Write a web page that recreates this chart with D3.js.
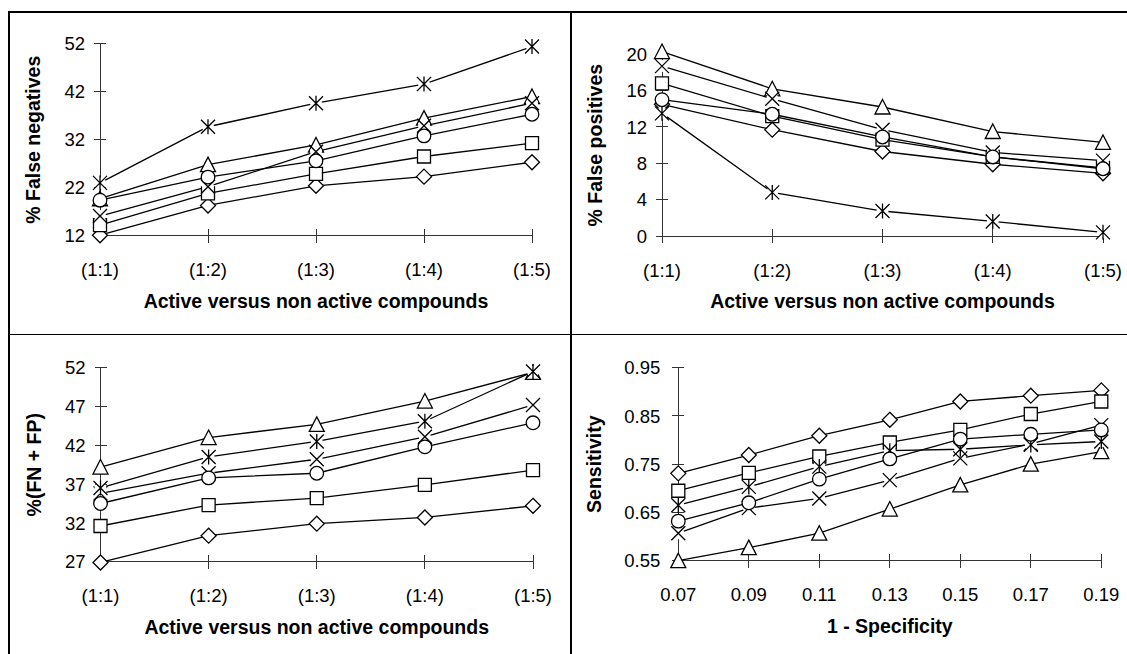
<!DOCTYPE html>
<html>
<head>
<meta charset="utf-8">
<script src="https://cdn.jsdelivr.net/npm/d3@7"></script>
<style>
    html, body { margin: 0; padding: 0; background: #fff; }
    svg { display: block; font-family: Arial, "Liberation Sans", sans-serif; }
</style>
</head>
<body>
<svg id="chart" width="1127" height="654"></svg>
<script>
// Category labels
const ratioLabels = ['(1:1)', '(1:2)', '(1:3)', '(1:4)', '(1:5)'];
const specificityLabels = ['0.07', '0.09', '0.11', '0.13', '0.15', '0.17', '0.19'];

// One row per series, in drawing order
const markerShapes = ['diamond', 'square', 'triangle', 'cross', 'star', 'circle'];

const falseNegatives = [
    [12.1, 18.3, 22.4, 24.3, 27.3],
    [14.2, 20.8, 24.9, 28.5, 31.3],
    [19.7, 26.8, 30.9, 36.5, 41.0],
    [16.1, 22.2, 29.5, 34.9, 39.6],
    [23.0, 34.7, 39.6, 43.6, 51.4],
    [19.4, 24.2, 27.6, 32.8, 37.3]
];

const falsePositives = [
    [14.5, 11.7, 9.3, 7.9, 6.9],
    [16.8, 13.2, 10.6, 8.7, 7.5],
    [20.3, 16.2, 14.2, 11.5, 10.3],
    [18.7, 15.1, 11.7, 9.2, 8.3],
    [13.5, 4.8, 2.75, 1.6, 0.4],
    [15.0, 13.4, 10.9, 8.7, 7.4]
];

const fnPlusFp = [
    [26.9, 30.35, 31.9, 32.7, 34.2],
    [31.6, 34.3, 35.2, 36.9, 38.8],
    [39.2, 43.0, 44.7, 47.7, 51.4],
    [35.8, 38.4, 40.2, 43.1, 47.2],
    [36.5, 40.5, 42.5, 45.1, 51.5],
    [34.5, 37.8, 38.4, 41.8, 44.9]
];

const sensitivity = [
    [0.731, 0.769, 0.809, 0.842, 0.880, 0.892, 0.903],
    [0.695, 0.732, 0.766, 0.795, 0.821, 0.854, 0.880],
    [0.550, 0.577, 0.607, 0.657, 0.707, 0.750, 0.776],
    [0.607, 0.659, 0.679, 0.717, 0.762, 0.792, 0.831],
    [0.665, 0.703, 0.745, 0.778, 0.781, 0.790, 0.797],
    [0.632, 0.670, 0.719, 0.761, 0.802, 0.812, 0.821]
];

// Y tick values per panel
const fnTicks = [12, 22, 32, 42, 52];
const fpTicks = [0, 4, 8, 12, 16, 20];
const fnfpTicks = [27, 32, 37, 42, 47, 52];
const sensTicks = [0.55, 0.65, 0.75, 0.85, 0.95];

const panels = [
    { cats: ratioLabels, series: falseNegatives, ticks: fnTicks, fmt: d3.format('d'),
      yTitle: '% False negatives', xTitle: 'Active versus non active compounds',
      left: 100, right: 532, top: 43.7, bottom: 235.7, titleOff: 67, labelGap: 15 },
    { cats: ratioLabels, series: falsePositives, ticks: fpTicks, fmt: d3.format('d'),
      yTitle: '% False positives', xTitle: 'Active versus non active compounds',
      left: 662, right: 1103, top: 54.3, bottom: 236, titleOff: 67, labelGap: 15 },
    { cats: ratioLabels, series: fnPlusFp, ticks: fnfpTicks, fmt: d3.format('d'),
      yTitle: '%(FN + FP)', xTitle: 'Active versus non active compounds',
      left: 100.5, right: 533, top: 367.7, bottom: 561.7, titleOff: 67, labelGap: 15 },
    { cats: specificityLabels, series: sensitivity, ticks: sensTicks, fmt: d3.format('.2f'),
      yTitle: 'Sensitivity', xTitle: '1 - Specificity',
      left: 678.3, right: 1101.3, top: 367.7, bottom: 560.7, titleOff: 84, labelGap: 18 }
];

const svg = d3.select('#chart');

// Frame lines (table-like borders)
const frame = svg.append('g').attr('stroke', '#000').attr('shape-rendering', 'crispEdges');
frame.append('line').attr('x1', 9).attr('x2', 1127).attr('y1', 12).attr('y2', 12).attr('stroke-width', 2);
frame.append('line').attr('x1', 9).attr('x2', 9).attr('y1', 11).attr('y2', 654).attr('stroke-width', 1.3);
frame.append('line').attr('x1', 571).attr('x2', 571).attr('y1', 11).attr('y2', 654).attr('stroke-width', 1.3);
frame.append('line').attr('x1', 9).attr('x2', 1127).attr('y1', 334.5).attr('y2', 334.5).attr('stroke-width', 1.3);

function markerPath(shape) {
    switch (shape) {
        case 'diamond': return 'M0,-7.5L7.5,0L0,7.5L-7.5,0Z';
        case 'square': return 'M-6.5,-6.5H6.5V6.5H-6.5Z';
        case 'triangle': return 'M0,-7.5L7.5,7L-7.5,7Z';
        case 'cross': return 'M-7,-7L7,7M7,-7L-7,7';
        case 'star': return 'M-7,-7L7,7M7,-7L-7,7M0,-7.5L0,7.5';
        case 'circle': return d3.symbol(d3.symbolCircle, Math.PI * 6.8 * 6.8)();
    }
}

panels.forEach(p => {
    const x = d3.scalePoint().domain(p.cats).range([p.left, p.right]);
    const y = d3.scaleLinear().domain([p.ticks[0], p.ticks[p.ticks.length - 1]]).range([p.bottom, p.top]);
    const g = svg.append('g');

    // Axes: custom cross ticks like the original spreadsheet chart
    const axis = g.append('g').attr('stroke', '#333').attr('stroke-width', 1).attr('shape-rendering', 'crispEdges');
    axis.append('line').attr('x1', p.left).attr('x2', p.left).attr('y1', y(p.ticks[p.ticks.length - 1])).attr('y2', p.bottom);
    axis.append('line').attr('x1', p.left).attr('x2', x(p.cats[p.cats.length - 1])).attr('y1', p.bottom).attr('y2', p.bottom);
    axis.selectAll('.yt').data(p.ticks).join('line')
        .attr('x1', p.left - 6).attr('x2', p.left + 6)
        .attr('y1', d => y(d)).attr('y2', d => y(d));
    axis.selectAll('.xt').data(p.cats).join('line')
        .attr('x1', d => x(d)).attr('x2', d => x(d))
        .attr('y1', p.bottom - 7).attr('y2', p.bottom + 7);

    // Tick labels
    g.append('g').selectAll('text').data(p.ticks).join('text')
        .attr('x', p.left - p.labelGap)
        .attr('y', d => y(d))
        .attr('dy', '0.36em')
        .attr('text-anchor', 'end')
        .style('font-size', '18.5px')
        .text(d => p.fmt(d));
    g.append('g').selectAll('text').data(p.cats).join('text')
        .attr('x', d => x(d))
        .attr('y', p.bottom + 34)
        .attr('dy', '0.36em')
        .attr('text-anchor', 'middle')
        .style('font-size', '18.5px')
        .text(d => d);

    // Axis titles
    g.append('text')
        .attr('transform', `translate(${p.left - p.titleOff},${(p.top + p.bottom) / 2}) rotate(-90)`)
        .attr('dy', '0.36em')
        .attr('text-anchor', 'middle')
        .style('font-size', '19.5px')
        .style('font-weight', 'bold')
        .text(p.yTitle);
    g.append('text')
        .attr('x', (p.left + p.right) / 2)
        .attr('y', p.bottom + 65)
        .attr('dy', '0.36em')
        .attr('text-anchor', 'middle')
        .style('font-size', '19.5px')
        .style('font-weight', 'bold')
        .text(p.xTitle);

    // Lines first, then markers on top
    const line = d3.line().x((d, i) => x(p.cats[i])).y(d => y(d));
    g.append('g').selectAll('path').data(p.series).join('path')
        .attr('d', line)
        .attr('fill', 'none')
        .attr('stroke', '#000')
        .attr('stroke-width', 1.3);

    p.series.forEach((vals, s) => {
        const shape = markerShapes[s];
        const m = g.append('g').selectAll('g').data(vals).join('g')
            .attr('transform', (d, i) => `translate(${x(p.cats[i])},${y(d)})`);
        if (shape === 'cross' || shape === 'star') {
            m.append('circle').attr('r', 6).attr('fill', '#fff');
        }
        m.append('path')
            .attr('d', markerPath(shape))
            .attr('fill', (shape === 'cross' || shape === 'star') ? 'none' : '#fff')
            .attr('stroke', '#000')
            .attr('stroke-width', 1.3);
    });
});
</script>
</body>
</html>
